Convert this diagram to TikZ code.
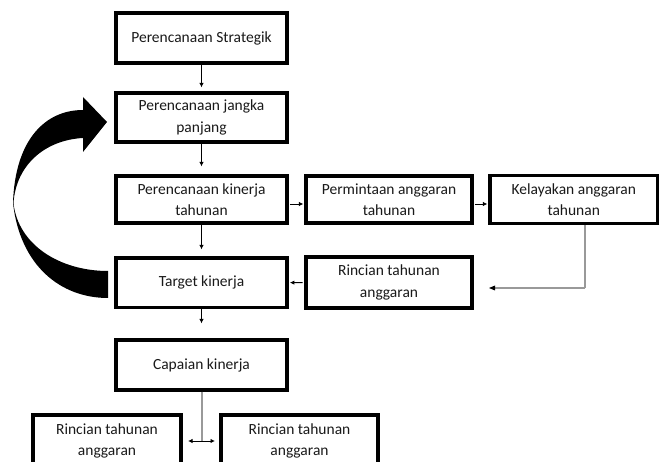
\documentclass[tikz,border=0pt]{standalone}
\usepackage{fontspec}
\setmainfont{Carlito}
\usetikzlibrary{arrows.meta}
\begin{document}
\begin{tikzpicture}[x=1pt,y=-1pt,
  box/.style={draw=black, line width=3.2pt, align=center, inner sep=0pt,
    font=\fontsize{15.5}{21.5}\selectfont, text=black!90},
  conn/.style={draw=black, line width=0.9pt, -{Latex[length=4.5pt,width=4.5pt]}},
  grayconn/.style={draw=black!40, line width=1.4pt},
  bigarrow/.style={fill=black, draw=none}
]
\useasboundingbox (0,0) rectangle (659,462);

% boxes
\node[box, minimum width=171pt, minimum height=50pt] (b1) at (201.5,38) {Perencanaan Strategik};
\node[box, minimum width=171pt, minimum height=49pt] (b2) at (201.5,117.5) {Perencanaan jangka\\panjang};
\node[box, minimum width=171pt, minimum height=47pt] (b3) at (201.5,199.5) {Perencanaan kinerja\\tahunan};
\node[box, minimum width=166pt, minimum height=47pt] (b4) at (389,199.5) {Permintaan anggaran\\tahunan};
\node[box, minimum width=167.5pt, minimum height=48pt] (b5) at (573.75,199.5) {Kelayakan anggaran\\tahunan};
\node[box, minimum width=171pt, minimum height=49.5pt] (tgt) at (201.5,282.75) {Target kinerja};
\node[box, minimum width=166pt, minimum height=51pt] (rin) at (389,282.5) {Rincian tahunan\\anggaran};
\node[box, minimum width=171pt, minimum height=50pt] (cap) at (201.5,365) {Capaian kinerja};
\node[box, minimum width=148pt, minimum height=52pt] (bl) at (107,441) {Rincian tahunan\\anggaran};
\node[box, minimum width=157pt, minimum height=52pt] (br) at (299.5,441) {Rincian tahunan\\anggaran};

% vertical arrows
\draw[conn, shorten >=4pt] (b1) -- (b2);
\draw[conn, shorten >=8pt] (b2) -- (b3);
\draw[conn, shorten >=7pt] (b3) -- (tgt);
\draw[conn, shorten >=15pt] (tgt) -- (cap);

% horizontal arrows
\draw[conn, shorten <=1.3pt, shorten >=1pt] ([yshift=-4.5pt]b3.east) -- ([yshift=-4.5pt]b4.west);
\draw[conn, shorten <=1.3pt, shorten >=1pt] ([yshift=-4.5pt]b4.east) -- ([yshift=-4.5pt]b5.west);
\draw[conn, shorten <=1.8pt, shorten >=1.3pt] (rin) -- (tgt);

% gray feedback from Kelayakan to Rincian
\coordinate (gc) at (585,288);
\coordinate (gend) at (489,288);
\draw[grayconn] (b5.south -| gc) -- (gc);
\draw[grayconn, shorten >=3pt] (gc) -- (gend);
\fill[black] (gend) -- ++(6,-2.5) -- ++(0,5) -- cycle;

% bottom split
\coordinate (split) at (202,441);
\coordinate (dl) at (188,441);
\coordinate (dr) at (215,441);
\draw[grayconn] (cap.south -| split) -- (split);
\draw[line width=0.9pt, {Latex[length=4.5pt,width=4.5pt]}-{Latex[length=4.5pt,width=4.5pt]}] (dl) -- (dr);

% big curved arrow
\fill[bigarrow]
  (108,271) -- (108,298)
  .. controls (60,298) and (20,265) .. (13,203)
  .. controls (15,140) and (45,110) .. (83,110)
  -- (83,97) -- (107,122) -- (83,152) -- (83,138)
  .. controls (45,140) and (16,165) .. (13.5,203)
  .. controls (18,245) and (60,271) .. (108,271) -- cycle;
\end{tikzpicture}
\end{document}
